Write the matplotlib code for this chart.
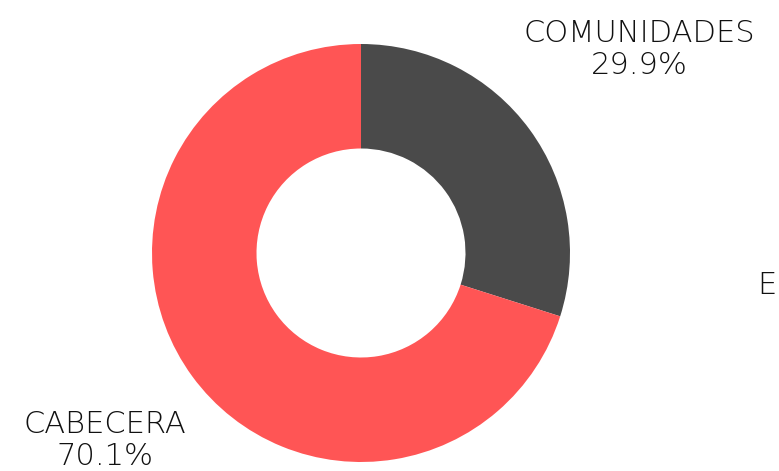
import numpy as np
import matplotlib
matplotlib.use("Agg")
import matplotlib.pyplot as plt

categorias = ["COMUNIDADES", "CABECERA"]
porcentajes = [29.9, 70.1]
colores = ["#4a4a4a", "#ff5555"]
# distancia de cada etiqueta respecto al radio
dist_etiqueta = [1.65, 1.52]

W, H = 779, 471
fig = plt.figure(figsize=(W / 100, H / 100), dpi=100)
ax = fig.add_axes([0, 0, 1, 1])

centro = (361, H - 253)
radio = 209

wedges, _ = ax.pie(porcentajes, colors=colores, startangle=90, counterclock=False,
                   radius=radio, center=centro, frame=True,
                   wedgeprops=dict(width=radio * 0.5, linewidth=0))
ax.set_xlim(0, W)
ax.set_ylim(0, H)
ax.set_aspect("equal")
ax.axis("off")

fuente = dict(family="DejaVu Sans", fontweight="light", fontsize=22, color="#111111")
for w, cat, pct, d in zip(wedges, categorias, porcentajes, dist_etiqueta):
    ang = np.deg2rad((w.theta1 + w.theta2) / 2)
    x = centro[0] + d * radio * np.cos(ang)
    y = centro[1] + d * radio * np.sin(ang)
    ax.text(x, y, f"{cat}\n{pct}%", ha="center", va="center", linespacing=1.1, **fuente)

ax.text(757, H - 285, "E", ha="left", va="center", **fuente)

fig.savefig("out.png", dpi=100)
